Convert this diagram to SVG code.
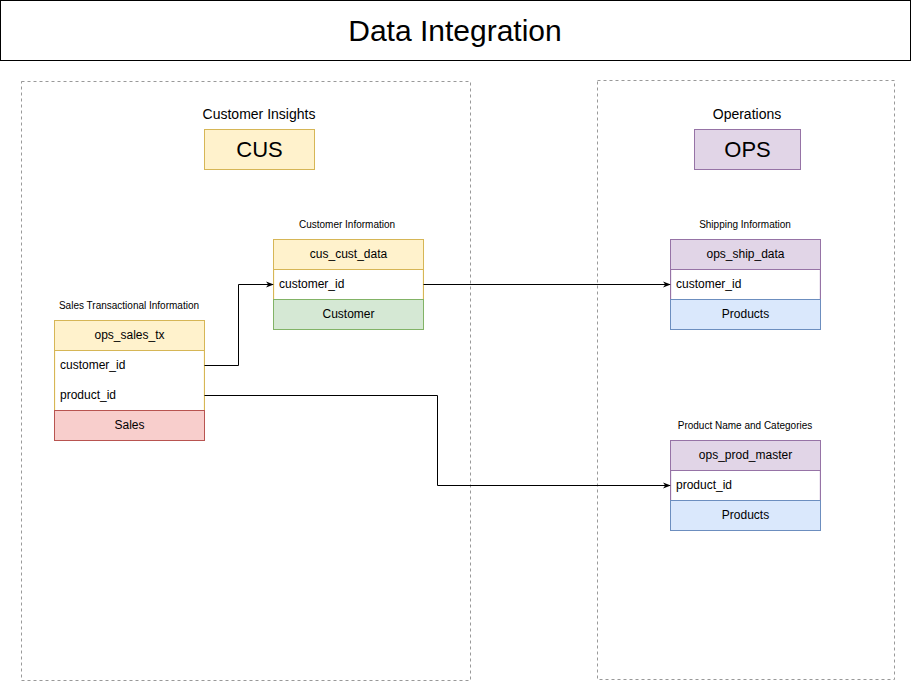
<svg xmlns="http://www.w3.org/2000/svg" width="911" height="681" viewBox="0 0 911 681">
  <style>
    text { font-family: "Liberation Sans", Arial, sans-serif; fill: #000; }
    .title { font-size: 30px; text-anchor: middle; }
    .group { fill: none; stroke: #999999; stroke-width: 1; stroke-dasharray: 3 3; }
    .grp-label { font-size: 14px; text-anchor: middle; }
    .tag { font-size: 22px; text-anchor: middle; }
    .cap { font-size: 10px; text-anchor: middle; }
    .hdr { font-size: 12px; text-anchor: middle; }
    .row { font-size: 12px; }
    .yel { fill: #fff2cc; stroke: #d6b656; }
    .pur { fill: #e1d5e7; stroke: #9673a6; }
    .red { fill: #f8cecc; stroke: #b85450; }
    .grn { fill: #d5e8d4; stroke: #82b366; }
    .blu { fill: #dae8fc; stroke: #6c8ebf; }
    .wht { fill: #ffffff; }
    .edge { fill: none; stroke: #000; stroke-width: 1; marker-end: url(#arrow); }
  </style>
  <defs>
    <marker id="arrow" viewBox="0 0 10 10" refX="9" refY="5" markerWidth="8" markerHeight="8" markerUnits="userSpaceOnUse" orient="auto">
      <path d="M0,1 L10,5 L0,9 L3,5 Z" fill="#000"/>
    </marker>
  </defs>

  <rect width="911" height="681" fill="#ffffff"/>

  <!-- Title banner -->
  <g id="title">
    <rect x="0.5" y="0.5" width="910" height="60" fill="#ffffff" stroke="#000" stroke-width="1"/>
    <text class="title" x="455" y="41">Data Integration</text>
  </g>

  <!-- Domain containers -->
  <g id="cus-domain">
    <rect class="group" x="21.5" y="81.5" width="449" height="599"/>
    <text class="grp-label" x="259" y="119">Customer Insights</text>
    <rect class="yel" x="204.5" y="129.5" width="110" height="40"/>
    <text class="tag" x="259.5" y="156.5">CUS</text>
  </g>
  <g id="ops-domain">
    <rect class="group" x="597.5" y="80.5" width="297" height="599"/>
    <text class="grp-label" x="747" y="119">Operations</text>
    <rect class="pur" x="694.5" y="129.5" width="106" height="40"/>
    <text class="tag" x="747.5" y="156.5">OPS</text>
  </g>

  <!-- Table: ops_sales_tx -->
  <g id="ops_sales_tx">
    <text class="cap" x="129" y="309">Sales Transactional Information</text>
    <rect class="yel" x="54.5" y="320.5" width="150" height="120"/>
    <rect class="wht" x="55.5" y="351" width="148" height="59"/>
    <line x1="54.5" y1="350.5" x2="204.5" y2="350.5" stroke="#d6b656"/>
    <text class="hdr" x="129.5" y="339">ops_sales_tx</text>
    <text class="row" x="60" y="369">customer_id</text>
    <text class="row" x="60" y="399">product_id</text>
    <rect class="red" x="54.5" y="410.5" width="150" height="30"/>
    <text class="hdr" x="129.5" y="429">Sales</text>
  </g>

  <!-- Table: cus_cust_data -->
  <g id="cus_cust_data">
    <text class="cap" x="347" y="228">Customer Information</text>
    <rect class="yel" x="273.5" y="239.5" width="150" height="90"/>
    <rect class="wht" x="274.5" y="270" width="148" height="29"/>
    <line x1="273.5" y1="269.5" x2="423.5" y2="269.5" stroke="#d6b656"/>
    <text class="hdr" x="348.5" y="258">cus_cust_data</text>
    <text class="row" x="279" y="288">customer_id</text>
    <rect class="grn" x="273.5" y="299.5" width="150" height="30"/>
    <text class="hdr" x="348.5" y="318">Customer</text>
  </g>

  <!-- Table: ops_ship_data -->
  <g id="ops_ship_data">
    <text class="cap" x="745" y="228">Shipping Information</text>
    <rect class="pur" x="670.5" y="239.5" width="150" height="90"/>
    <rect class="wht" x="671.5" y="270" width="148" height="29"/>
    <line x1="670.5" y1="269.5" x2="820.5" y2="269.5" stroke="#9673a6"/>
    <text class="hdr" x="745.5" y="258">ops_ship_data</text>
    <text class="row" x="676" y="288">customer_id</text>
    <rect class="blu" x="670.5" y="299.5" width="150" height="30"/>
    <text class="hdr" x="745.5" y="318">Products</text>
  </g>

  <!-- Table: ops_prod_master -->
  <g id="ops_prod_master">
    <text class="cap" x="745" y="429">Product Name and Categories</text>
    <rect class="pur" x="670.5" y="440.5" width="150" height="90"/>
    <rect class="wht" x="671.5" y="471" width="148" height="29"/>
    <line x1="670.5" y1="470.5" x2="820.5" y2="470.5" stroke="#9673a6"/>
    <text class="hdr" x="745.5" y="459">ops_prod_master</text>
    <text class="row" x="676" y="489">product_id</text>
    <rect class="blu" x="670.5" y="500.5" width="150" height="30"/>
    <text class="hdr" x="745.5" y="519">Products</text>
  </g>

  <!-- Relationships -->
  <g id="connectors">
    <path class="edge" d="M204.5,365.5 H238.5 V284.5 H273"/>
    <path class="edge" d="M423.5,284.5 H670"/>
    <path class="edge" d="M204.5,395.5 H437.5 V485.5 H670"/>
  </g>
</svg>
